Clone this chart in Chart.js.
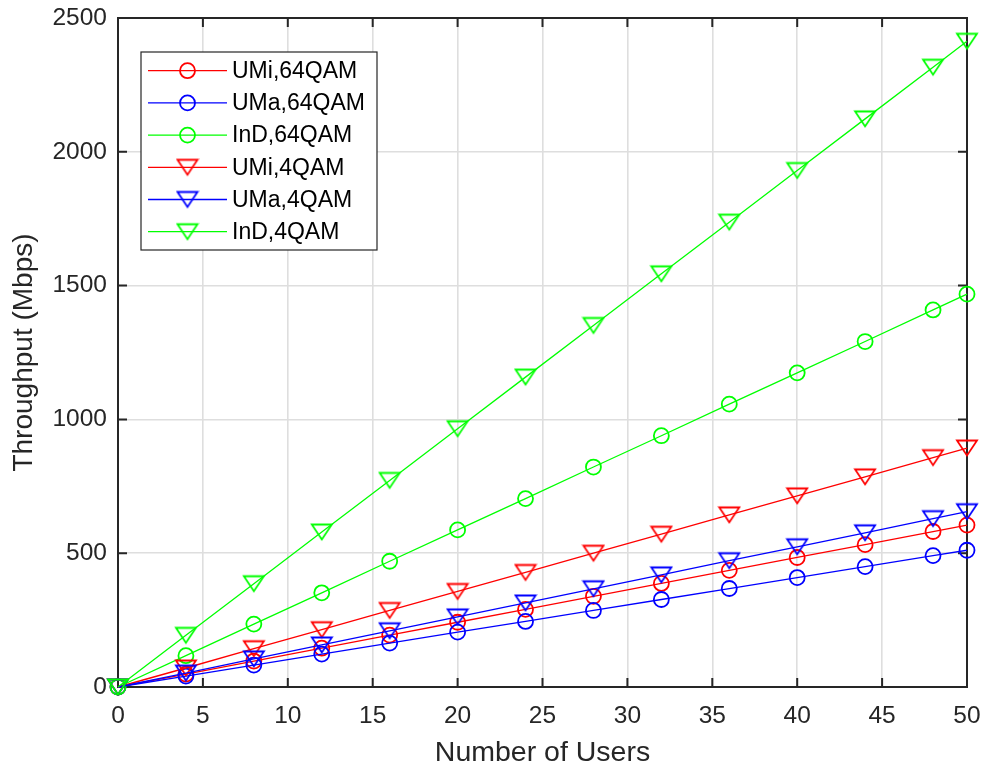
<!DOCTYPE html>
<html>
<head>
<meta charset="utf-8">
<script src="https://cdn.jsdelivr.net/npm/chart.js@4/dist/chart.umd.min.js"></script>
<style>
  html, body { margin: 0; padding: 0; background: #fff; }
  #chartCanvas { display: block; }
</style>
</head>
<body>
<canvas id="chartCanvas" width="983" height="767"></canvas>
<script>
// number of users on the x axis
let users = [0, 4, 8, 12, 16, 20, 24, 28, 32, 36, 40, 44, 48, 50];

// throughput (Mbps)
let umi_64qam = [0, 48, 97, 145, 194, 242, 290, 339, 387, 436, 484, 532, 581, 605];
let uma_64qam = [0, 41, 82, 123, 164, 205, 245, 286, 327, 368, 409, 450, 491, 511];
let ind_64qam = [0, 117, 235, 352, 470, 587, 704, 822, 939, 1057, 1174, 1291, 1409, 1468];
let umi_4qam = [0, 71, 143, 214, 286, 357, 428, 500, 571, 643, 714, 785, 857, 893];
let uma_4qam = [0, 52, 105, 157, 210, 262, 314, 367, 419, 472, 524, 576, 629, 655];
let ind_4qam = [0, 193, 386, 579, 772, 965, 1158, 1351, 1544, 1737, 1930, 2123, 2316, 2413];

let seriesNames = ['UMi,64QAM', 'UMa,64QAM', 'InD,64QAM', 'UMi,4QAM', 'UMa,4QAM', 'InD,4QAM'];

const axisColor = '#262626';
const fontFamily = '"Liberation Sans", Arial, sans-serif';

// downward triangle marker, centred on its bounding box like matlab's 'v'
function makeTriangle(color) {
    const c = document.createElement('canvas');
    c.width = 24;
    c.height = 20;
    const g = c.getContext('2d');
    g.strokeStyle = color;
    g.lineWidth = 1.8;
    g.beginPath();
    g.moveTo(2, 2.5);
    g.lineTo(22, 2.5);
    g.lineTo(12, 17.5);
    g.closePath();
    g.stroke();
    return c;
}

function makeSeries(label, values, color, marker, i) {
    return {
        label: label,
        data: users.map((u, k) => ({ x: u, y: values[k] })),
        borderColor: color,
        borderWidth: 1.3,
        pointStyle: marker == 'o' ? 'circle' : makeTriangle(color),
        pointRadius: 7.5,
        pointBorderWidth: 1.8,
        pointBorderColor: color,
        pointBackgroundColor: 'rgba(0,0,0,0)',
        fill: false,
        tension: 0,
        clip: false,
        order: 6 - i // matlab draws later lines on top
    };
}

const chartData = {
    datasets: [
        makeSeries(seriesNames[0], umi_64qam, '#ff0000', 'o', 0),
        makeSeries(seriesNames[1], uma_64qam, '#0000ff', 'o', 1),
        makeSeries(seriesNames[2], ind_64qam, '#00ff00', 'o', 2),
        makeSeries(seriesNames[3], umi_4qam, '#ff0000', 'v', 3),
        makeSeries(seriesNames[4], uma_4qam, '#0000ff', 'v', 4),
        makeSeries(seriesNames[5], ind_4qam, '#00ff00', 'v', 5)
    ]
};

// box round the plot and inward tick marks on all four sides
const boxPlugin = {
    id: 'boxPlugin',
    beforeDatasetsDraw(chart) {
        const ctx = chart.ctx;
        const a = chart.chartArea;
        const xs = chart.scales.x;
        const ys = chart.scales.y;
        const len = 9;
        ctx.save();
        ctx.strokeStyle = axisColor;
        ctx.lineWidth = 2;
        ctx.strokeRect(a.left, a.top, a.right - a.left, a.bottom - a.top);
        ctx.beginPath();
        xs.ticks.forEach(t => {
            const px = xs.getPixelForValue(t.value);
            ctx.moveTo(px, a.bottom);
            ctx.lineTo(px, a.bottom - len);
            ctx.moveTo(px, a.top);
            ctx.lineTo(px, a.top + len);
        });
        ys.ticks.forEach(t => {
            const py = ys.getPixelForValue(t.value);
            ctx.moveTo(a.left, py);
            ctx.lineTo(a.left + len, py);
            ctx.moveTo(a.right, py);
            ctx.lineTo(a.right - len, py);
        });
        ctx.stroke();
        ctx.restore();
    }
};

// matlab style legend box in the upper left corner
const legendPlugin = {
    id: 'legendPlugin',
    afterDraw(chart) {
        const ctx = chart.ctx;
        const bx = 141, by = 52, bw = 236, bh = 198;
        ctx.save();
        ctx.fillStyle = '#ffffff';
        ctx.fillRect(bx, by, bw, bh);
        ctx.strokeStyle = axisColor;
        ctx.lineWidth = 1.2;
        ctx.strokeRect(bx, by, bw, bh);
        ctx.font = '23px ' + fontFamily;
        ctx.textBaseline = 'middle';
        ctx.textAlign = 'left';
        chart.data.datasets.forEach((ds, i) => {
            const y = 70.7 + i * 32.2;
            ctx.strokeStyle = ds.borderColor;
            ctx.lineWidth = 1.3;
            ctx.beginPath();
            ctx.moveTo(148, y);
            ctx.lineTo(227, y);
            ctx.stroke();
            if (ds.pointStyle == 'circle') {
                ctx.lineWidth = 1.8;
                ctx.beginPath();
                ctx.arc(187.5, y, 7.5, 0, Math.PI * 2);
                ctx.stroke();
            } else {
                const img = ds.pointStyle;
                ctx.drawImage(img, 187.5 - img.width / 2, y - img.height / 2);
            }
            ctx.fillStyle = '#000000';
            ctx.fillText(ds.label, 232, y + 1);
        });
        ctx.restore();
    }
};

const chartConfig = {
    type: 'line',
    data: chartData,
    options: {
        responsive: false,
        animation: false,
        devicePixelRatio: 1,
        layout: { padding: { top: 18, right: 16, bottom: 0, left: 0 } },
        scales: {
            x: {
                type: 'linear',
                min: 0,
                max: 50,
                afterFit: s => {
                    s.height = 80;
                    s.paddingLeft = 0;
                    s.paddingRight = 0;
                },
                ticks: {
                    stepSize: 5,
                    color: axisColor,
                    padding: 15,
                    maxRotation: 0,
                    font: { size: 24.5, family: fontFamily }
                },
                grid: { color: '#dedede', lineWidth: 1.6, drawTicks: false },
                border: { display: false },
                title: {
                    display: true,
                    text: 'Number of Users',
                    color: axisColor,
                    padding: { top: 0, bottom: 0 },
                    font: { size: 28.5, family: fontFamily, lineHeight: 1 }
                }
            },
            y: {
                min: 0,
                max: 2500,
                afterFit: s => {
                    s.width = 118;
                    s.paddingTop = 0;
                    s.paddingBottom = 0;
                },
                ticks: {
                    stepSize: 500,
                    color: axisColor,
                    padding: 11,
                    callback: v => String(v),
                    font: { size: 24.5, family: fontFamily }
                },
                grid: { color: '#dedede', lineWidth: 1.6, drawTicks: false },
                border: { display: false },
                title: {
                    display: true,
                    text: 'Throughput (Mbps)',
                    color: axisColor,
                    padding: { top: 10, bottom: 0 },
                    font: { size: 28, family: fontFamily, lineHeight: 1 }
                }
            }
        },
        plugins: {
            legend: { display: false },
            tooltip: { enabled: false }
        }
    },
    plugins: [boxPlugin, legendPlugin]
};

const mainChart = new Chart(document.getElementById('chartCanvas').getContext('2d'), chartConfig);
</script>
</body>
</html>
